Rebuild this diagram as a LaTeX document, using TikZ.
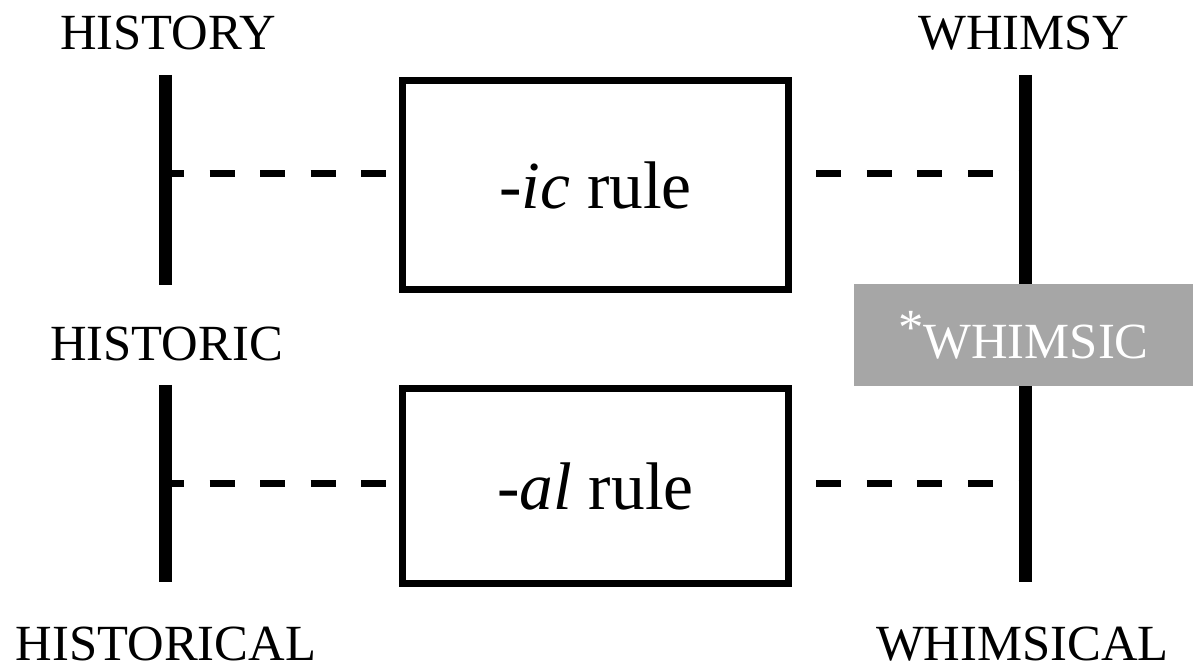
\documentclass[tikz,border=0pt]{standalone}
\usepackage{fontspec}
\setmainfont{Liberation Serif}
\definecolor{boxgray}{HTML}{A6A6A6}
\tikzset{
  lbl/.style={anchor=base, inner sep=0pt, font=\fontsize{38}{40}\selectfont},
  rulebox/.style={draw, fill=white, line width=5.25pt, minimum width=289.5pt, inner sep=0pt, font=\fontsize{50.5}{52}\selectfont},
  wordbar/.style={line width=9.75pt},
  link/.style={line width=5.25pt, dash pattern=on 18.75pt off 19.17pt},
  starred/.style={fill=boxgray, text=white, minimum width=254.25pt, minimum height=76.5pt, inner sep=0pt, font=\fontsize{38}{40}\selectfont}
}
\begin{document}
\begin{tikzpicture}[x=0.75pt, y=-0.75pt]
\useasboundingbox (0,0) rectangle (1193,666);
% coordinates
\coordinate (lTa) at (165.5,75);
\coordinate (lTb) at (165.5,285);
\coordinate (lBa) at (165.5,385);
\coordinate (lBb) at (165.5,582);
\coordinate (rTa) at (1025.5,75);
\coordinate (rTb) at (1025.5,285);
\coordinate (rBa) at (1025.5,385);
\coordinate (rBb) at (1025.5,582);
\coordinate (dAl) at (159,173.3);
\coordinate (dAr) at (1032,173.3);
\coordinate (dBl) at (159,483.3);
\coordinate (dBr) at (1032,483.3);
% dashed links
\draw[link] (dAl) -- (dAr);
\draw[link] (dBl) -- (dBr);
% rule boxes
\node[rulebox, minimum height=156.75pt] (icrule) at (595.5,185) {\textit{-ic} rule};
\node[rulebox, minimum height=146.25pt] (alrule) at (595.5,486) {\textit{-al} rule};
% bars
\draw[wordbar] (lTa) -- (lTb);
\draw[wordbar] (lBa) -- (lBb);
\draw[wordbar] (rTa) -- (rTb);
\draw[wordbar] (rBa) -- (rBb);
% labels
\node[lbl] (history) at (168,50) {HISTORY};
\node[lbl] (historic) at (166.5,361) {HISTORIC};
\node[lbl] (historical) at (166,660) {HISTORICAL};
\node[lbl] (whimsy) at (1024,50) {WHIMSY};
\node[lbl] (whimsical) at (1022.5,660) {WHIMSICAL};
\node[starred] (whimsic) at (1023.5,335) {\raisebox{0.28em}{*}WHIMSIC};
\end{tikzpicture}
\end{document}
